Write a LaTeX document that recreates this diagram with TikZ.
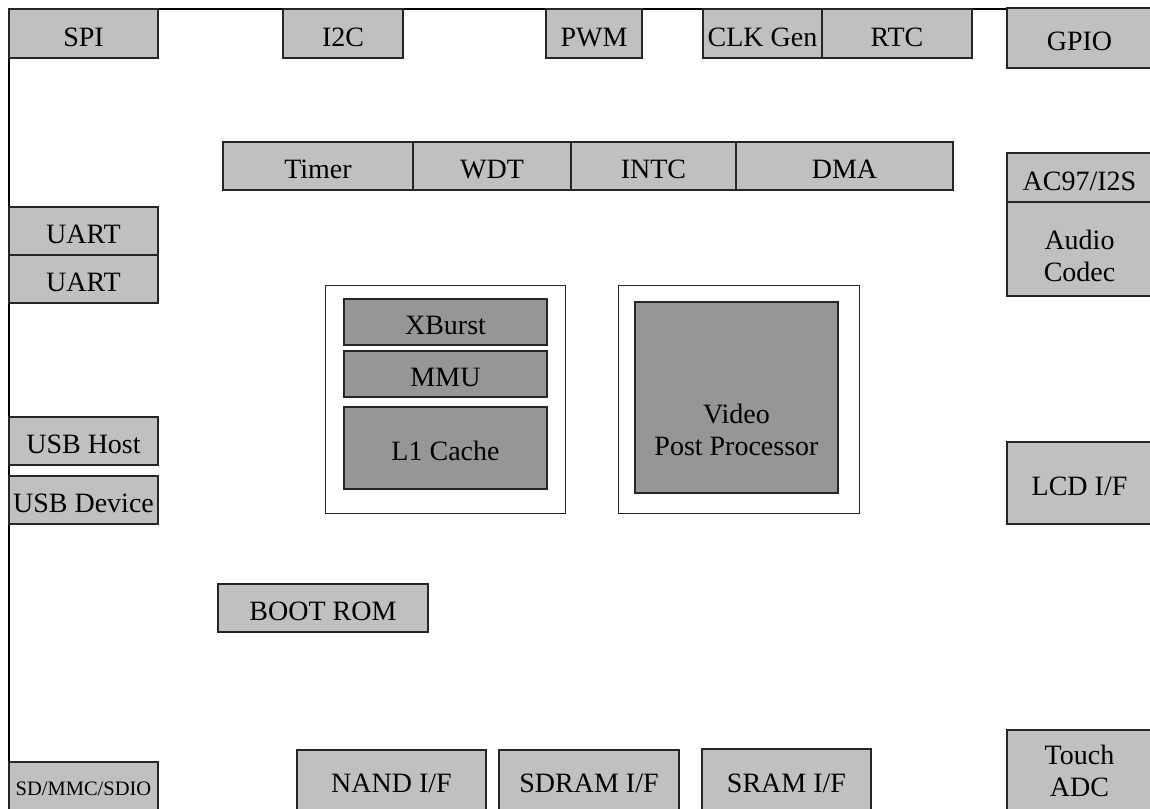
\documentclass[tikz,border=0pt]{standalone}
\usepackage{fontspec}
\setmainfont{Liberation Serif}
\usetikzlibrary{positioning}

\definecolor{periGray}{RGB}{192,192,192}
\definecolor{coreGray}{RGB}{150,150,150}

\begin{document}
\begin{tikzpicture}[x=1pt, y=-1pt, node distance=0pt,
    blk/.style={draw=black!85, fill=periGray, line width=1.3pt, inner sep=0pt, outer sep=0pt,
                font=\fontsize{28}{35}\selectfont, text height=25pt, text depth=0pt},
    twoline/.style={blk, align=center, font=\fontsize{28}{32}\selectfont, text height=, text depth=},
    core/.style={blk, fill=coreGray},
    holder/.style={draw=black!85, fill=white, line width=1pt, inner sep=0pt, outer sep=0pt},
    caption/.style={align=center, font=\fontsize{28}{32}\selectfont}]

    \useasboundingbox (0,0) rectangle (1150,808);

    % chip outline (open to the right and bottom)
    \draw[line width=1.2pt] (9,810) -- (9,9) -- (1007,9);

    % top edge
    \node[blk, minimum width=149, minimum height=49] (spi) at (83.5,33.5) {SPI};
    \node[blk, minimum width=120, minimum height=49] (iic) at (343,33.5) {I2C};
    \node[blk, minimum width=96, minimum height=49] (pwm) at (594,33.5) {PWM};
    \node[blk, minimum width=119, minimum height=49] (clkgen) at (762.5,33.5) {CLK Gen};
    \node[blk, minimum width=150, minimum height=49, right=of clkgen] (rtc) {RTC};
    \node[blk, minimum width=145, minimum height=60] (gpio) at (1079.5,38) {GPIO};

    % system bus peripherals
    \node[blk, minimum width=190, minimum height=48] (timer) at (318,166) {Timer};
    \node[blk, minimum width=158, minimum height=48, right=of timer] (wdt) {WDT};
    \node[blk, minimum width=165, minimum height=48, right=of wdt] (intc) {INTC};
    \node[blk, minimum width=217, minimum height=48, right=of intc] (dma) {DMA};

    % left edge
    \node[blk, minimum width=149, minimum height=48] (uartA) at (83.5,231) {UART};
    \node[blk, minimum width=149, minimum height=48, below=of uartA] (uartB) {UART};
    \node[blk, minimum width=149, minimum height=48] (usbhost) at (83.5,441) {USB Host};
    \node[blk, minimum width=149, minimum height=48] (usbdev) at (83.5,500) {USB Device};
    \node[blk, minimum width=149, minimum height=48, font=\fontsize{20.5}{24}\selectfont,
          text height=18pt] (sdmmc) at (83.5,786) {SD/MMC/SDIO};

    % right edge
    \node[blk, minimum width=145, minimum height=49] (ac97) at (1079.5,177.5) {AC97/I2S};
    \node[blk, minimum width=145, minimum height=94, below=of ac97] (codec) {};
    \node[caption] (codecText) at ([yshift=-7]codec.center) {Audio\\Codec};
    \node[blk, minimum width=145, minimum height=82] (lcd) at (1079.5,483) {LCD I/F};
    \node[twoline, minimum width=145, minimum height=82] (touch) at (1079.5,771) {Touch\\ADC};

    % CPU core
    \node[holder, minimum width=240, minimum height=228] (cpu) at (445,399) {};
    \node[core, minimum width=203, minimum height=46] (xburst) at (445.5,322) {XBurst};
    \node[core, minimum width=203, minimum height=46] (mmu) at (445.5,374) {MMU};
    \node[core, minimum width=203, minimum height=82] (cache) at (445.5,448) {L1 Cache};

    % video post processor
    \node[holder, minimum width=241, minimum height=228] (vppHolder) at (738.5,399) {};
    \node[core, minimum width=203, minimum height=191] (vpp) at (736.5,397.5) {};
    \node[caption] (vppText) at (736.5,430) {Video\\Post Processor};

    % boot and memory interfaces
    \node[blk, minimum width=210, minimum height=48] (bootrom) at (323,608) {BOOT ROM};
    \node[blk, minimum width=189, minimum height=60] (nand) at (391.5,780) {NAND I/F};
    \node[blk, minimum width=180, minimum height=60] (sdram) at (589,780) {SDRAM I/F};
    \node[blk, minimum width=169, minimum height=62] (sram) at (786.5,780) {SRAM I/F};

\end{tikzpicture}
\end{document}
